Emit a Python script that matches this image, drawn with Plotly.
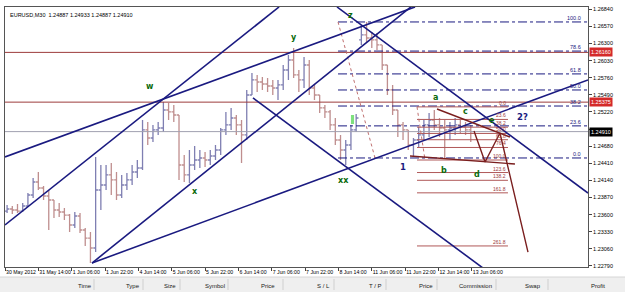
import plotly.graph_objects as go

# ---------------- data ----------------
time_labels = ["30 May 2012", "31 May 14:00", "1 Jun 06:00", "1 Jun 22:00", "4 Jun 14:00",
               "5 Jun 06:00", "5 Jun 22:00", "6 Jun 14:00", "7 Jun 06:00", "7 Jun 22:00",
               "8 Jun 14:00", "11 Jun 06:00", "11 Jun 22:00", "12 Jun 14:00", "13 Jun 06:00"]
time_label_bars = [0, 32, 64, 96, 128, 160, 192, 224, 256, 288, 320, 352, 384, 416, 448]

price_ticks = [1.22790, 1.23060, 1.23330, 1.23600, 1.23870, 1.24140, 1.24410, 1.24680,
               1.24950, 1.25220, 1.25490, 1.25760, 1.26030, 1.26300, 1.26570, 1.26840]

# M30 candles grouped by 5 bars (bar index of group centre)
bar_pos = [5 * g + 2 for g in range(90)]
opens = [1.23657, 1.23689, 1.23673, 1.23657, 1.23736, 1.23910, 1.24115, 1.24020, 1.23894, 1.23831,
         1.23673, 1.23642, 1.23594, 1.23437, 1.23579, 1.23358, 1.23231, 1.23074, 1.23989, 1.24068,
         1.24226, 1.24147, 1.23910, 1.24068, 1.24147, 1.24273, 1.24336, 1.24936, 1.24809, 1.24936,
         1.24967, 1.25251, 1.25220, 1.25172, 1.24383, 1.24226, 1.24383, 1.24462, 1.24494, 1.24462,
         1.24525, 1.24620, 1.24936, 1.25015, 1.25125, 1.25015, 1.24857, 1.25488, 1.25725, 1.25693,
         1.25661, 1.25630, 1.25598, 1.25646, 1.25882, 1.26040, 1.25804, 1.25725, 1.25961, 1.25598,
         1.25488, 1.25283, 1.25220, 1.25015, 1.24778, 1.24620, 1.24699, 1.24936, 1.26356, 1.26435,
         1.26387, 1.26356, 1.26277, 1.25961, 1.25567, 1.25251, 1.25015, 1.24936, 1.24699, 1.24778,
         1.24857, 1.25015, 1.25093, 1.25015, 1.24967, 1.24936, 1.24967, 1.25015, 1.24983, 1.24936]
highs = [1.23752, 1.23736, 1.23768, 1.23784, 1.23941, 1.24178, 1.24273, 1.24052, 1.23989, 1.23831,
         1.23784, 1.23705, 1.23610, 1.23642, 1.23626, 1.23389, 1.23326, 1.24510, 1.24383, 1.24383,
         1.24415, 1.24273, 1.24226, 1.24257, 1.24383, 1.24462, 1.25093, 1.25062, 1.25015, 1.25062,
         1.25377, 1.25362, 1.25330, 1.25172, 1.24541, 1.24620, 1.24683, 1.24620, 1.24588, 1.24620,
         1.24699, 1.24967, 1.25220, 1.25283, 1.25172, 1.25093, 1.25567, 1.25835, 1.25804, 1.25772,
         1.25756, 1.25725, 1.25725, 1.25961, 1.26119, 1.26230, 1.25882, 1.26088, 1.26040, 1.25646,
         1.25488, 1.25330, 1.25251, 1.25125, 1.24857, 1.24778, 1.25015, 1.25188, 1.26593, 1.26640,
         1.26482, 1.26466, 1.26277, 1.25961, 1.25646, 1.25251, 1.25062, 1.24936, 1.24809, 1.24983,
         1.25093, 1.25204, 1.25251, 1.25125, 1.25093, 1.25062, 1.25125, 1.25093, 1.25062, 1.25015]
lows = [1.23626, 1.23610, 1.23626, 1.23642, 1.23721, 1.23863, 1.23989, 1.23831, 1.23358, 1.23547,
        1.23563, 1.23515, 1.23326, 1.23389, 1.23310, 1.23105, 1.22837, 1.23010, 1.23673, 1.23989,
        1.23910, 1.23831, 1.23863, 1.23989, 1.24068, 1.24178, 1.24304, 1.24699, 1.24746, 1.24857,
        1.24904, 1.25093, 1.25062, 1.24147, 1.24115, 1.24099, 1.24304, 1.24336, 1.24352, 1.24383,
        1.24462, 1.24541, 1.24857, 1.24936, 1.24857, 1.24415, 1.24778, 1.25488, 1.25535, 1.25567,
        1.25535, 1.25488, 1.25409, 1.25567, 1.25725, 1.25756, 1.25535, 1.25598, 1.25488, 1.25409,
        1.25204, 1.25125, 1.24936, 1.24699, 1.24462, 1.24383, 1.24620, 1.24904, 1.26277, 1.26324,
        1.26230, 1.26198, 1.25882, 1.25488, 1.25172, 1.24825, 1.24778, 1.24620, 1.24510, 1.24667,
        1.24778, 1.24825, 1.24936, 1.24825, 1.24494, 1.24778, 1.24857, 1.24888, 1.24857, 1.24746]
closes = [1.23689, 1.23673, 1.23657, 1.23736, 1.23910, 1.24115, 1.24020, 1.23894, 1.23831, 1.23673,
          1.23642, 1.23594, 1.23437, 1.23579, 1.23358, 1.23231, 1.23074, 1.23989, 1.24068, 1.24226,
          1.24147, 1.23910, 1.24068, 1.24147, 1.24273, 1.24336, 1.24936, 1.24809, 1.24936, 1.24967,
          1.25251, 1.25220, 1.25172, 1.24383, 1.24226, 1.24383, 1.24462, 1.24494, 1.24462, 1.24525,
          1.24620, 1.24936, 1.25015, 1.25125, 1.25015, 1.24857, 1.25488, 1.25725, 1.25693, 1.25661,
          1.25630, 1.25598, 1.25646, 1.25882, 1.26040, 1.25804, 1.25725, 1.25961, 1.25598, 1.25488,
          1.25283, 1.25220, 1.25015, 1.24778, 1.24620, 1.24699, 1.24936, 1.25125, 1.26435, 1.26387,
          1.26356, 1.26277, 1.25961, 1.25567, 1.25251, 1.25015, 1.24936, 1.24699, 1.24778, 1.24857,
          1.25015, 1.25093, 1.25015, 1.24967, 1.24936, 1.24967, 1.25015, 1.24983, 1.24936, 1.24910]

header_row = "EURUSD,M30  1.24887 1.24933 1.24887 1.24910"
current_price = 1.24910
red_levels = [1.26160, 1.25375]

# blue trend lines: ((bar, price), (bar, price))
blue_lines = [
    ((0.0, 1.24510), (393.5, 1.26877)),
    ((83.5, 1.22837), (390.6, 1.26892)),
    ((0.0, 1.23437), (263.0, 1.26877)),
    ((83.5, 1.22837), (559.5, 1.25725)),
    ((238.0, 1.25441), (458.7, 1.22758)),
    ((318.6, 1.26877), (559.5, 1.23941)),
]
# maroon pattern lines
red_paths = [
    ([414.6, 484.6], [1.25267, 1.24825]),
    ([388.7, 489.4], [1.24525, 1.24399]),
    ([450.1, 460.7, 475.0, 501.9], [1.24920, 1.24431, 1.24888, 1.23010]),
]

# Fibonacci retracement 1 (navy, dash-dot)
fib1_levels = [0.0, 23.6, 38.2, 50.0, 61.8, 78.6, 100.0]
fib1_p0, fib1_p100 = 1.24494, 1.26640
fib1_b100, fib1_b0 = 319.6, 355.1
# Fibonacci 2 (maroon)
fib2_levels = [0.0, 23.6, 38.2, 50.0, 61.8, 76.4, 100.0, 123.6, 138.2, 161.8, 261.8]
fib2_p0, fib2_p100 = 1.25300, 1.24462
fib2_b0, fib2_b100, fib2_end = 395.4, 403.1, 482.7

wave_labels = ["w", "x", "y", "z", "xx", "a", "b", "c", "d", "e"]
wave_bars = [139.2, 182.3, 277.4, 331.1, 324.4, 413.6, 421.3, 442.4, 453.0, 467.5]
wave_prices = [1.25614, 1.23973, 1.26387, 1.26735, 1.24131, 1.25456, 1.24289, 1.25235, 1.24241, 1.25080]
count_labels = ["1", "2?"]
count_bars = [382.0, 497.1]
count_prices = [1.24352, 1.25141]

columns = ["Time", "Type", "Size", "Symbol", "Price", "S / L", "T / P", "Price", "Commission", "Swap", "Profit"]
column_px = [85, 133, 170, 215, 268, 323, 375, 426, 475, 533, 598]
separators_px = [94, 143, 180, 228, 283, 334, 386, 437, 496, 548]

# ---------------- figure ----------------
W, H = 625, 293
ML, MR, MT, MB = 5, 37, 7, 26
PW, PH = W - ML - MR, H - MT - MB
X_RANGE = [0, 559.5]
Y_RANGE = [1.22774, 1.26876]
FONT = "Liberation Sans"
NAVY = "#1a1a80"
MAROON = "#9c3b3b"

fig = go.Figure()

# horizontal full-width lines
for lv in red_levels:
    fig.add_trace(go.Scatter(x=X_RANGE, y=[lv, lv], mode="lines",
                             line=dict(color=MAROON, width=1), hoverinfo="skip"))
fig.add_trace(go.Scatter(x=X_RANGE, y=[current_price, current_price], mode="lines",
                         line=dict(color="#a0a0b0", width=1), hoverinfo="skip"))

# fib 1
for lv in fib1_levels:
    p = fib1_p0 + (fib1_p100 - fib1_p0) * lv / 100
    fig.add_trace(go.Scatter(x=[fib1_b100, X_RANGE[1]], y=[p, p], mode="lines",
                             line=dict(color=NAVY, width=1, dash="dashdot"), hoverinfo="skip"))
    fig.add_annotation(x=554.7, y=p, text=f"{lv:.1f}", showarrow=False, xanchor="right",
                       yanchor="bottom", yshift=-1, font=dict(size=5.5, color=NAVY, family=FONT))
fig.add_trace(go.Scatter(x=[fib1_b100, fib1_b0], y=[fib1_p100, fib1_p0], mode="lines",
                         line=dict(color="#c07070", width=1, dash="dot"), hoverinfo="skip"))

# fib 2
for lv in fib2_levels:
    p = fib2_p0 + (fib2_p100 - fib2_p0) * lv / 100
    fig.add_trace(go.Scatter(x=[fib2_b0, fib2_end], y=[p, p], mode="lines",
                             line=dict(color="#b05858", width=1), hoverinfo="skip"))
    fig.add_annotation(x=fib2_end, y=p, text=f"{lv:.1f}", showarrow=False, xanchor="right",
                       yanchor="bottom", yshift=-1, font=dict(size=5, color=MAROON, family=FONT))
fig.add_trace(go.Scatter(x=[fib2_b0, fib2_b100], y=[fib2_p0, fib2_p100], mode="lines",
                         line=dict(color="#c07070", width=1, dash="dot"), hoverinfo="skip"))

# price bars
fig.add_trace(go.Ohlc(
    x=bar_pos, open=opens, high=highs, low=lows, close=closes, tickwidth=0.45,
    increasing=dict(line=dict(color="#7f7fb2", width=1.3)),
    decreasing=dict(line=dict(color="#bf8e8e", width=1.3)),
    hoverinfo="skip"))

# highlighted candle
fig.add_shape(type="rect", x0=332.0, x1=335.0, y0=1.25030, y1=1.25172,
              line=dict(width=0), fillcolor="#7ee07e")

# blue trend lines
for (b0, p0), (b1, p1) in blue_lines:
    fig.add_trace(go.Scatter(x=[b0, b1], y=[p0, p1], mode="lines",
                             line=dict(color=NAVY, width=1.6), hoverinfo="skip"))
# maroon pattern lines
for bx, py in red_paths:
    fig.add_trace(go.Scatter(x=bx, y=py, mode="lines",
                             line=dict(color="#7a1e1e", width=1.4), hoverinfo="skip"))

# wave labels
for t, b, p in zip(wave_labels, wave_bars, wave_prices):
    fig.add_annotation(x=b, y=p, text=f"<b>{t}</b>", showarrow=False,
                       xanchor="center", yanchor="middle",
                       font=dict(size=8, color="#0a6a0a", family="DejaVu Sans"))
for t, b, p in zip(count_labels, count_bars, count_prices):
    fig.add_annotation(x=b, y=p, text=f"<b>{t}</b>", showarrow=False,
                       xanchor="center", yanchor="middle",
                       font=dict(size=8.5, color=NAVY, family="DejaVu Sans"))

# symbol header
fig.add_annotation(xref="paper", yref="paper", x=3 / PW, y=1 - 3 / PH, text=header_row,
                   showarrow=False, xanchor="left", yanchor="top",
                   font=dict(size=5.5, color="#000", family=FONT))

# price boxes on the axis
for lv, bg in [(red_levels[0], "#d42a2a"), (red_levels[1], "#d42a2a"), (current_price, "#000000")]:
    fig.add_annotation(xref="paper", x=1.0, y=lv, text=f"{lv:.5f}", showarrow=False,
                       xanchor="left", yanchor="middle", xshift=1, bgcolor=bg, borderpad=1,
                       font=dict(size=5.5, color="#ffffff", family=FONT))

# terminal header strip
def px_x(px):
    return (px - ML) / PW

def px_y(py):
    return (H - MB - py) / PH

fig.add_shape(type="rect", xref="paper", yref="paper", x0=px_x(0), x1=px_x(W),
              y0=px_y(292), y1=px_y(277), line=dict(width=0), fillcolor="#efefef", layer="below")
fig.add_shape(type="line", xref="paper", yref="paper", x0=px_x(0), x1=px_x(W),
              y0=px_y(277), y1=px_y(277), line=dict(color="#d6d6d6", width=1))
for s in separators_px:
    fig.add_shape(type="line", xref="paper", yref="paper", x0=px_x(s), x1=px_x(s),
                  y0=px_y(290), y1=px_y(279), line=dict(color="#cfcfcf", width=1))
for t, c in zip(columns, column_px):
    fig.add_annotation(xref="paper", yref="paper", x=px_x(c), y=px_y(285.5), text=t,
                       showarrow=False, xanchor="center", yanchor="middle",
                       font=dict(size=6, color="#202020", family=FONT))

# the axis label hidden behind the current-price box is left blank
tick_text = ["" if abs(v - current_price) < 0.0005 else f"{v:.5f}" for v in price_ticks]

fig.update_layout(
    width=W, height=H, margin=dict(l=ML, r=MR, t=MT, b=MB),
    paper_bgcolor="white", plot_bgcolor="white", showlegend=False,
    xaxis=dict(range=X_RANGE, tickvals=time_label_bars, ticktext=time_labels, tickangle=0,
               ticks="outside", ticklen=3, tickcolor="#444", ticklabelposition="outside right",
               tickfont=dict(size=5.2, color="#000", family=FONT), showgrid=False, zeroline=False,
               showline=True, linecolor="#555", mirror=True, rangeslider=dict(visible=False),
               fixedrange=True),
    yaxis=dict(range=Y_RANGE, side="right", tickvals=price_ticks, ticktext=tick_text,
               ticks="outside", ticklen=3,
               tickcolor="#444", tickfont=dict(size=5.5, color="#000", family=FONT),
               showgrid=False, zeroline=False, showline=True, linecolor="#555", mirror=True,
               fixedrange=True),
)

fig.write_html("out.html")
